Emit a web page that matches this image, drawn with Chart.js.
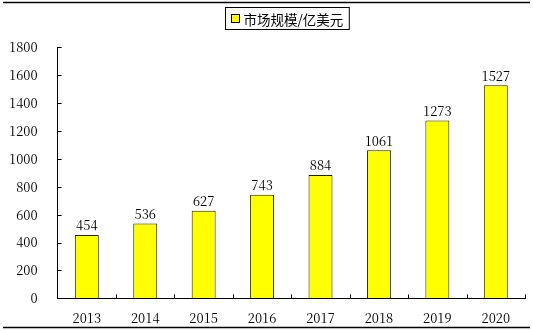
<!DOCTYPE html>
<html>
<head>
<meta charset="utf-8">
<script src="https://cdn.jsdelivr.net/npm/chart.js@4.4.1/dist/chart.umd.min.js"></script>
<style>
html,body{margin:0;padding:0;background:#fff;}
#wrap{position:relative;width:533px;height:331px;}
</style>
</head>
<body>
<div id="wrap"><canvas id="c" width="533" height="331"></canvas></div>
<script>
const categories = ['2013','2014','2015','2016','2017','2018','2019','2020'];
const marketSize = [454, 536, 627, 743, 884, 1061, 1273, 1527];
const seriesLabel = '市场规模/亿美元';
const yTicks = [0, 200, 400, 600, 800, 1000, 1200, 1400, 1600, 1800];

const FONT = '"Noto Serif CJK SC", "Liberation Serif", serif';
const AXIS = '#000';

const decor = {
  id: 'decor',
  beforeDraw(chart) {
    const ctx = chart.ctx;
    ctx.save();
    ctx.strokeStyle = '#000';
    ctx.lineWidth = 1.5;
    ctx.beginPath();
    ctx.moveTo(3, 2.5); ctx.lineTo(530, 2.5);
    ctx.moveTo(3, 327.5); ctx.lineTo(530, 327.5);
    ctx.stroke();
    ctx.restore();
  },
  afterDraw(chart) {
    const ctx = chart.ctx;
    const xs = chart.scales.x, ys = chart.scales.y;
    const area = chart.chartArea;
    ctx.save();
    ctx.strokeStyle = AXIS;
    ctx.lineWidth = 1;
    ctx.beginPath();
    yTicks.forEach(v => {
      const y = Math.round(ys.getPixelForValue(v)) + 0.5;
      ctx.moveTo(area.left, y); ctx.lineTo(area.left + 4, y);
    });
    const n = categories.length;
    for (let i = 1; i <= n; i++) {
      const x = Math.round(xs.getPixelForValue(i - 0.5)) + 0.5;
      ctx.moveTo(x, area.bottom); ctx.lineTo(x, area.bottom - 4);
    }
    ctx.stroke();

    const meta = chart.getDatasetMeta(0);
    ctx.fillStyle = '#000';
    ctx.font = '13px ' + FONT;
    ctx.textAlign = 'center';
    ctx.textBaseline = 'bottom';
    meta.data.forEach((bar, i) => {
      ctx.fillText(String(marketSize[i]), bar.x, bar.y - 3);
    });

    const cx = (area.left + area.right) / 2 - 4;
    ctx.font = '13.5px "Noto Sans CJK SC", sans-serif';
    const tw = ctx.measureText(seriesLabel).width;
    const boxW = 8, gap = 4, padX = 6;
    const totalW = padX + boxW + gap + tw + padX;
    const lx = Math.round(cx - totalW / 2) + 0.5;
    const ly = 7.5, lh = 22;
    ctx.strokeStyle = '#000';
    ctx.lineWidth = 1;
    ctx.strokeRect(lx, ly, totalW, lh);
    ctx.fillStyle = '#FFFF00';
    ctx.fillRect(lx + padX, ly + 7, boxW, boxW);
    ctx.strokeRect(lx + padX, ly + 7, boxW, boxW);
    ctx.fillStyle = '#000';
    ctx.textAlign = 'left';
    ctx.textBaseline = 'middle';
    ctx.fillText(seriesLabel, lx + padX + boxW + gap, ly + lh / 2 + 1);
    ctx.restore();
  }
};

new Chart(document.getElementById('c'), {
  type: 'bar',
  data: {
    labels: categories,
    datasets: [{
      label: seriesLabel,
      data: marketSize,
      backgroundColor: '#FFFF00',
      borderColor: '#222200',
      borderWidth: 1,
      borderSkipped: 'bottom',
      barPercentage: 0.41,
      categoryPercentage: 1.0
    }]
  },
  options: {
    responsive: false,
    animation: false,
    devicePixelRatio: 1,
    layout: { padding: { top: 47, left: -11, right: 8, bottom: -7 } },
    plugins: { legend: { display: false }, tooltip: { enabled: false } },
    scales: {
      x: {
        offset: true,
        grid: { display: true, drawOnChartArea: false, drawTicks: false, offset: true },
        border: { display: true, color: AXIS, width: 1 },
        ticks: { color: '#000', font: { family: FONT, size: 13 }, padding: 12, maxRotation: 0 }
      },
      y: {
        min: 0, max: 1800,
        afterBuildTicks(scale) { scale.ticks = yTicks.map(v => ({ value: v })); },
        grid: { display: true, drawOnChartArea: false, drawTicks: false },
        border: { display: true, color: AXIS, width: 1 },
        ticks: { color: '#000', font: { family: FONT, size: 13 }, padding: 20, callback: v => String(v) }
      }
    }
  },
  plugins: [decor]
});
</script>
</body>
</html>
